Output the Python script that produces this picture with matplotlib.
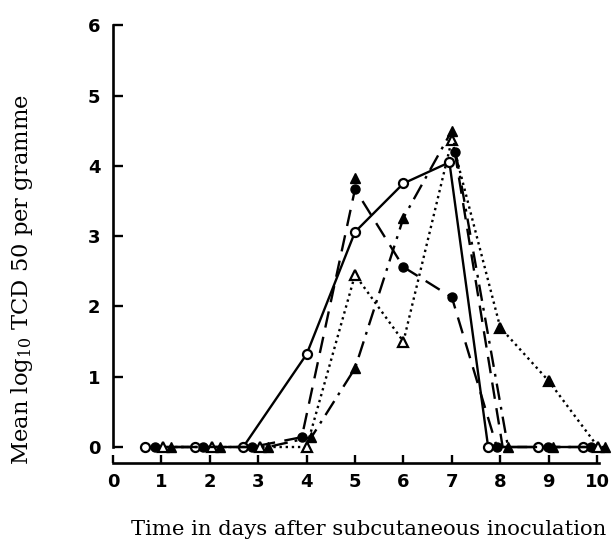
import matplotlib
matplotlib.use("Agg")
import matplotlib.pyplot as plt

# ---- data ----
days_ticks = list(range(0, 11))
y_ticks = list(range(0, 7))

# solid line, open circles
a_x = [0.66, 1.69, 2.69, 4.0, 5.0, 6.0, 6.95, 7.75, 8.78, 9.71]
a_y = [0, 0, 0, 1.32, 3.06, 3.75, 4.05, 0, 0, 0]
# dashed line, filled circles
b_x = [0.87, 1.86, 2.87, 3.9, 5.0, 6.0, 7.0, 7.93, 8.99, 9.88]
b_y = [0, 0, 0, 0.14, 3.67, 2.56, 2.13, 0, 0, 0]
# dotted line, triangles (open before the peak, filled after)
c_x = [1.03, 2.05, 3.04, 4.0, 5.0, 6.0, 7.0, 8.0, 9.0, 10.02]
c_y = [0, 0, 0, 0, 2.45, 1.5, 4.37, 1.7, 0.94, 0]
c_filled = [False, False, False, False, False, False, False, True, True, False]
# dash-dot line, filled triangles
d_x = [1.2, 2.21, 3.2, 4.1, 5.0, 6.0, 7.0, 8.16, 9.1, 10.17]
d_y = [0, 0, 0, 0.14, 1.12, 3.26, 4.5, 0, 0, 0]
# second dashed descent from the day-7 cluster
e_x = [7.06, 8.05]
e_y = [4.2, 0]
# extra filled triangle on top of the day-5 dashed peak
f_x = [5.0]
f_y = [3.83]

plt.rcParams["mathtext.fontset"] = "dejavuserif"

fig = plt.figure(figsize=(6.14, 5.52), dpi=100)
ax = fig.add_axes([113 / 614, 0.152, 1 - 113 / 614, 0.967 - 0.152])
ax.set_xlim(0, 10.35)
ax.set_ylim(-0.3, 6.1)

lw = 1.7
ms = 6.5
dashed = (0, (7, 4))
ax.plot(a_x, a_y, color="black", lw=lw, ls="-", marker="o", ms=ms,
        mfc="white", mec="black", mew=1.6, zorder=3)
ax.plot(b_x, b_y, color="black", lw=lw, ls=dashed, marker="o", ms=ms,
        mfc="black", mec="black", zorder=3)
ax.plot(e_x, e_y, color="black", lw=lw, ls=dashed, zorder=2)
ax.plot(e_x[:1], e_y[:1], ls="none", marker="o", ms=ms, mfc="black", mec="black", zorder=3)
ax.plot(f_x, f_y, ls="none", marker="^", ms=ms + 1, mfc="black", mec="black", zorder=3)
ax.plot(c_x, c_y, color="black", lw=lw, ls=(0, (1, 1.6)), zorder=2)
for x, y, f in zip(c_x, c_y, c_filled):
    ax.plot([x], [y], ls="none", marker="^", ms=ms + 1,
            mfc="black" if f else "white", mec="black", mew=1.6, zorder=3)
ax.plot(d_x, d_y, color="black", lw=lw, ls=(0, (7, 3, 1.2, 3)), marker="^", ms=ms + 1,
        mfc="black", mec="black", zorder=3)

for s in ["top", "right"]:
    ax.spines[s].set_visible(False)
ax.spines["left"].set_bounds(0, 6)
ax.spines["left"].set_linewidth(1.9)
ax.spines["bottom"].set_position(("data", -0.23))
ax.spines["bottom"].set_bounds(0, 10.05)
ax.spines["bottom"].set_linewidth(1.9)

ax.set_xticks(days_ticks)
ax.set_yticks(y_ticks)
ax.tick_params(axis="y", direction="in", length=7, width=1.7, pad=9)
ax.tick_params(axis="x", direction="in", length=6, width=1.7, pad=7)
for lab in ax.get_xticklabels() + ax.get_yticklabels():
    lab.set_fontweight("bold")
    lab.set_fontsize(13)
    lab.set_family("DejaVu Sans")

fig.text(0.6, 0.04, "Time in days after subcutaneous inoculation",
         family="DejaVu Serif", fontsize=15.2, ha="center", va="center")
fig.text(0.036, 0.494, r"Mean log$_{10}$ TCD 50 per gramme",
         family="DejaVu Serif", fontsize=16.3, ha="center", va="center",
         rotation=90)

fig.savefig("out.png", dpi=100)
